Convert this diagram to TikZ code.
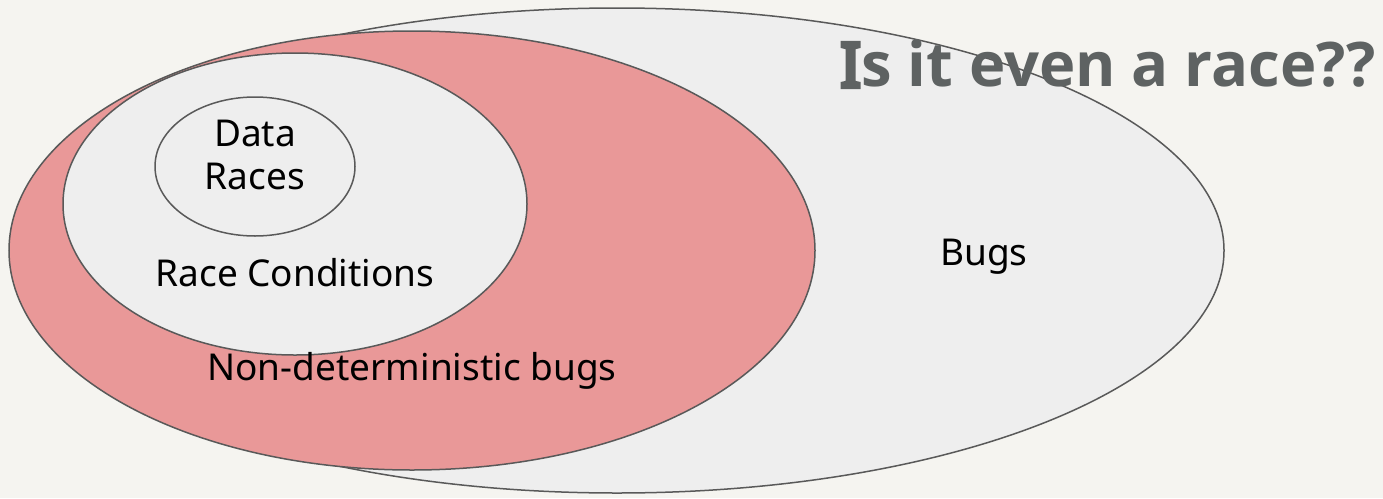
\documentclass[tikz,border=0pt]{standalone}
\usepackage{fontspec}
\setmainfont{Noto Sans}
\newfontfamily\titlefont{Open Sans}
\newfontfamily\notobold{Noto Sans}[FakeBold=7]
\definecolor{bgc}{HTML}{F5F4F0}
\definecolor{grayfill}{HTML}{EEEEEE}
\definecolor{pinkfill}{HTML}{E99898}
\definecolor{edge}{HTML}{595959}
\definecolor{titlec}{HTML}{5E6262}
\begin{document}
\begin{tikzpicture}[x=1pt,y=-1pt,
  setshape/.style={draw=edge,line width=1.5pt},
  lbl/.style={font=\fontsize{37}{43}\selectfont,text=black,align=center}]
\fill[bgc] (0,0) rectangle (1383,498);
\useasboundingbox (0,0) rectangle (1383,498);
\filldraw[setshape,fill=grayfill] (617,250.5) ellipse [x radius=607,y radius=242.5];
\filldraw[setshape,fill=pinkfill] (412,250.5) ellipse [x radius=403,y radius=219.5];
\filldraw[setshape,fill=grayfill] (295,204) ellipse [x radius=232,y radius=151];
\filldraw[setshape,fill=grayfill] (255,166.5) ellipse [x radius=100,y radius=69.5];
\node[lbl] (dr) at (255,155) {Data\\Races};
\node[lbl] (rc) at (295,273) {Race Conditions};
\node[lbl] (nd) at (412,371) {Non-deterministic bugs};
\node[lbl] (bugs) at (984,257) {Bugs};
\node[font=\fontsize{61.5}{66}\selectfont,text=titlec,anchor=east] (title) at (1379,64) {{\notobold I}{\titlefont\bfseries s it even a race??}};
\end{tikzpicture}
\end{document}
